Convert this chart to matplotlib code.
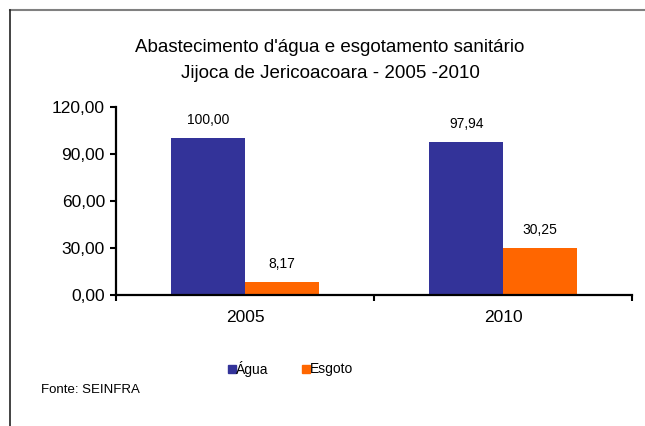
import matplotlib.pyplot as plt
from matplotlib.lines import Line2D
from matplotlib.patches import Rectangle

plt.rcParams['font.family'] = ['Liberation Sans', 'DejaVu Sans']

anos = ['2005', '2010']
agua = [100.00, 97.94]
esgoto = [8.17, 30.25]
series = ['Água', 'Esgoto']
cores = ['#333399', '#FF6600']

fig = plt.figure(figsize=(6.45, 4.26), dpi=100)
ax = fig.add_axes([116/645, 1-295/426, (632-116)/645, (295-107)/426])

w = 0.285
xs = range(len(anos))
b1 = ax.bar([x - w/2 for x in xs], agua, w, color=cores[0])
b2 = ax.bar([x + w/2 for x in xs], esgoto, w, color=cores[1])

def fmt(v):
    return f'{v:.2f}'.replace('.', ',')

for bars, vals in ((b1, agua), (b2, esgoto)):
    for b, v in zip(bars, vals):
        ax.annotate(fmt(v), (b.get_x() + b.get_width()/2, v), xytext=(0, 13),
                    textcoords='offset points', ha='center', va='center', fontsize=10)

ax.set_xlim(-0.5, 1.5)
ax.set_ylim(0, 120)
ax.set_yticks([0, 30, 60, 90, 120])
ax.set_yticklabels([fmt(v) for v in [0, 30, 60, 90, 120]], fontsize=12.5)
ax.set_xticks([0, 1])
ax.set_xticklabels(anos, fontsize=12.5)
ax.tick_params(axis='x', length=0, pad=11)
ax.set_xticks([-0.5, 0.5, 1.5], minor=True)
ax.tick_params(axis='x', which='minor', length=4, width=1.5, direction='out')
ax.tick_params(axis='y', length=4, width=1.5, direction='out', pad=4)
for s in ['top', 'right']:
    ax.spines[s].set_visible(False)
for s in ['left', 'bottom']:
    ax.spines[s].set_linewidth(1.6)

fig.text(330/645, 1-48/426, "Abastecimento d'água e esgotamento sanitário",
         ha='center', va='center', fontsize=13.5)
fig.text(330/645, 1-73/426, "Jijoca de Jericoacoara - 2005 -2010",
         ha='center', va='center', fontsize=13.5)

# legenda
fig.patches.append(Rectangle((228/645, 1-373/426), 8/645, 8/426, color=cores[0],
                             transform=fig.transFigure, figure=fig))
fig.text(236/645, 1-369/426, series[0], va='center', fontsize=10)
fig.patches.append(Rectangle((302/645, 1-373/426), 8/645, 8/426, color=cores[1],
                             transform=fig.transFigure, figure=fig))
fig.text(310/645, 1-369/426, series[1], va='center', fontsize=10)

fig.text(41/645, 1-390/426, 'Fonte: SEINFRA', va='center', fontsize=9.5)

# moldura
fig.add_artist(Line2D([10/645, 1], [1-10/426, 1-10/426], color='#808080', lw=1.5,
                      transform=fig.transFigure))
fig.add_artist(Line2D([10/645, 10/645], [0, 1-10/426], color='#222222', lw=1.2,
                      transform=fig.transFigure))

fig.savefig('out.png', dpi=100)
